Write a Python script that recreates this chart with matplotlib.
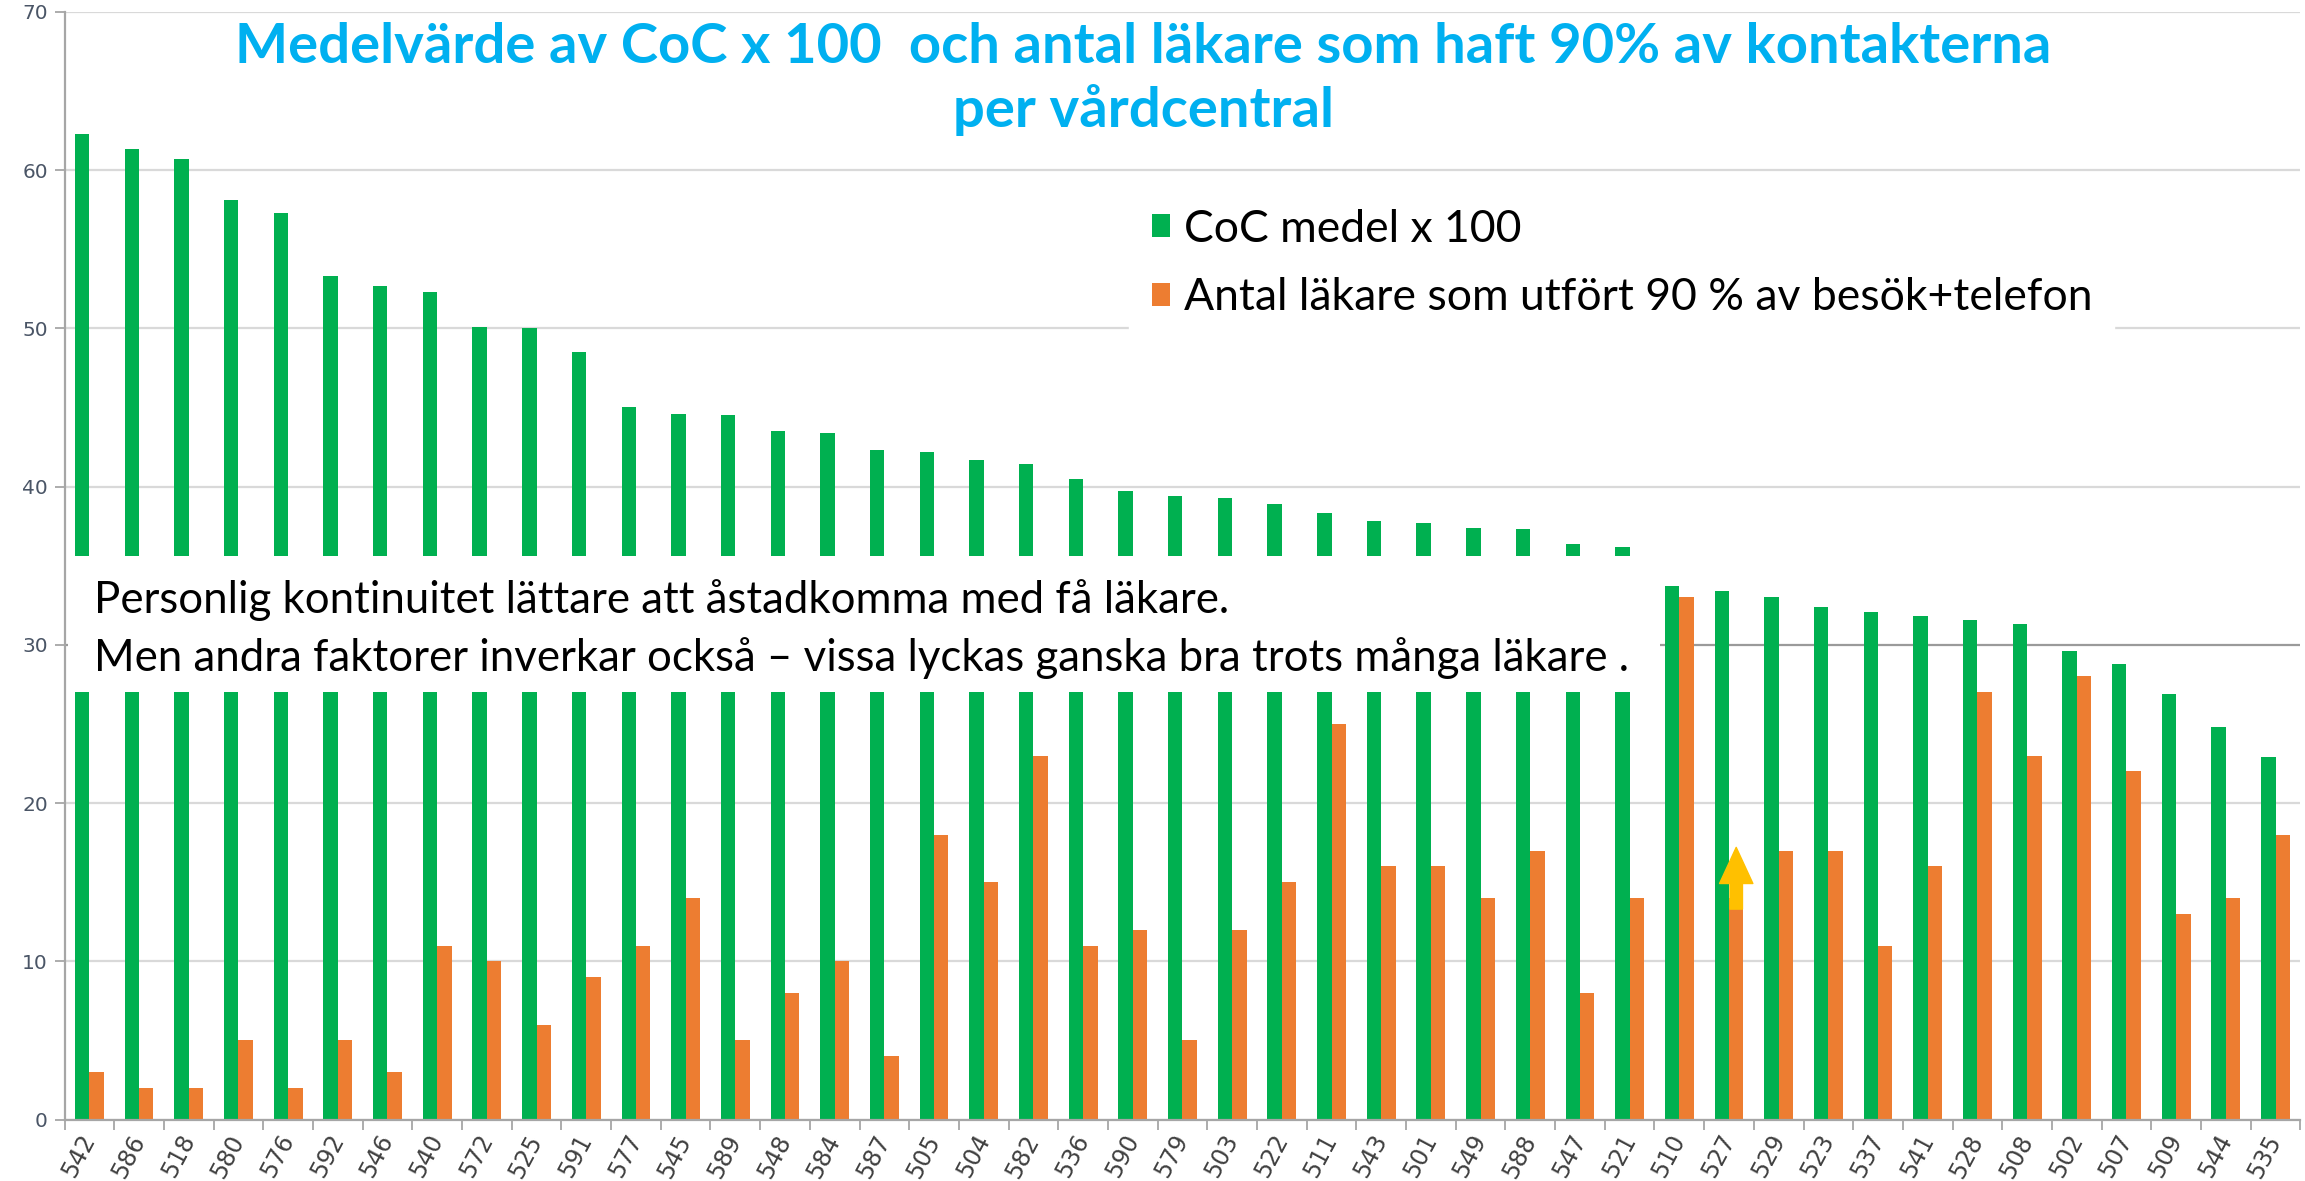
import numpy as np
import matplotlib.pyplot as plt
from matplotlib.patches import Rectangle
from matplotlib.transforms import blended_transform_factory, ScaledTranslation

# vardcentraler, sorterade efter CoC medel
vardcentral = ['542', '586', '518', '580', '576', '592', '546', '540', '572', '525',
               '591', '577', '545', '589', '548', '584', '587', '505', '504', '582',
               '536', '590', '579', '503', '522', '511', '543', '501', '549', '588',
               '547', '521', '510', '527', '529', '523', '537', '541', '528', '508',
               '502', '507', '509', '544', '535']

coc_medel = [62.3, 61.3, 60.7, 58.1, 57.3, 53.3, 52.7, 52.3, 50.1, 50.0,
             48.5, 45.0, 44.6, 44.5, 43.5, 43.4, 42.3, 42.2, 41.7, 41.4,
             40.5, 39.7, 39.4, 39.3, 38.9, 38.3, 37.8, 37.7, 37.4, 37.3,
             36.4, 36.2, 33.7, 33.4, 33.0, 32.4, 32.1, 31.8, 31.6, 31.3,
             29.6, 28.8, 26.9, 24.8, 22.9]

antal_lakare = [3, 2, 2, 5, 2, 5, 3, 11, 10, 6,
                9, 11, 14, 5, 8, 10, 4, 18, 15, 23,
                11, 12, 5, 12, 15, 25, 16, 16, 14, 17,
                8, 14, 33, 14, 17, 17, 11, 16, 27, 23,
                28, 22, 13, 14, 18]

yticks = [0, 10, 20, 30, 40, 50, 60, 70]

titel = 'Medelvärde av CoC x 100  och antal läkare som haft 90% av kontakterna\nper vårdcentral'
kommentar = ('Personlig kontinuitet lättare att åstadkomma med få läkare.\n'
             'Men andra faktorer inverkar också – vissa lyckas ganska bra trots många läkare .')
pil_vc = '527'

GREEN = '#00B050'
ORANGE = '#ED7D31'
TEXTFONT = ['Lato', 'DejaVu Sans']

fig = plt.figure(figsize=(23.05, 11.81), dpi=100)
ax = fig.add_axes([0.028, 0.052, 0.970, 0.938])

x = np.arange(len(vardcentral))
w = 0.29
ax.bar(x - w/2, coc_medel, w, color=GREEN, label='CoC medel x 100', zorder=2)
ax.bar(x + w/2, antal_lakare, w, color=ORANGE,
       label='Antal läkare som utfört 90 % av besök+telefon', zorder=2)

ax.set_xlim(-0.5, len(x) - 0.5)
ax.set_ylim(0, 70)
ax.set_yticks(yticks)
ax.yaxis.grid(True, color='#D9D9D9', lw=1.6)
ax.set_axisbelow(True)
ax.get_ygridlines()[3].set_color('#9A9A9A')

for s in ['top', 'right']:
    ax.spines[s].set_visible(False)
for s in ['left', 'bottom']:
    ax.spines[s].set_color('#A6A6A6')
    ax.spines[s].set_linewidth(1.6)

ax.set_xticks(x)
ax.set_xticklabels(vardcentral, rotation=62, ha='right', va='center',
                   rotation_mode='anchor', fontsize=17, color='#404040')
offset = ScaledTranslation(0.16, 0, fig.dpi_scale_trans)
for lab in ax.get_xticklabels():
    lab.set_transform(lab.get_transform() + offset)
ax.set_xticks(np.append(x - 0.5, x[-1] + 0.5), minor=True)
ax.tick_params(axis='x', which='major', length=0, pad=12)
ax.tick_params(axis='x', which='minor', length=7, color='#A6A6A6', width=1.3)
ax.tick_params(axis='y', length=7, color='#A6A6A6', width=1.3, labelsize=14.5,
               labelcolor='#4A5566', pad=5)

# legend i vit ruta
leg = ax.legend(loc='upper left', bbox_to_anchor=(0.490, 0.842),
                bbox_transform=fig.transFigure, frameon=True, fancybox=False,
                edgecolor='white', facecolor='white', framealpha=1,
                prop={'family': TEXTFONT, 'size': 32}, handlelength=0.42,
                handleheight=0.42, handletextpad=0.3, labelspacing=0.62,
                borderpad=0.5, borderaxespad=0)
leg.set_zorder(5)

# vit ruta med kommentar som täcker staplarna
trans = blended_transform_factory(ax.transAxes, ax.transData)
ax.add_patch(Rectangle((0.0015, 27.0), 0.712, 8.6, transform=trans,
                       facecolor='white', edgecolor='none', zorder=4))
ax.text(0.013, 31.0, kommentar, transform=trans, ha='left', va='center',
        fontsize=31.5, family=TEXTFONT, color='black', linespacing=1.5, zorder=5)

# gul pil vid 527
i = vardcentral.index(pil_vc)
ax.annotate('', xy=(i + w/2, 17.2), xytext=(i + w/2, 13.3),
            arrowprops=dict(arrowstyle='simple,head_length=1.3,head_width=1.2,tail_width=0.45',
                            mutation_scale=20, color='#FFC000', shrinkA=0, shrinkB=0),
            zorder=6)

fig.text(0.496, 0.981, titel, ha='center', va='top', color='#00B0F0',
         fontsize=40.5, fontweight='bold', family=TEXTFONT, linespacing=1.27)

fig.savefig('out.png', dpi=100)
